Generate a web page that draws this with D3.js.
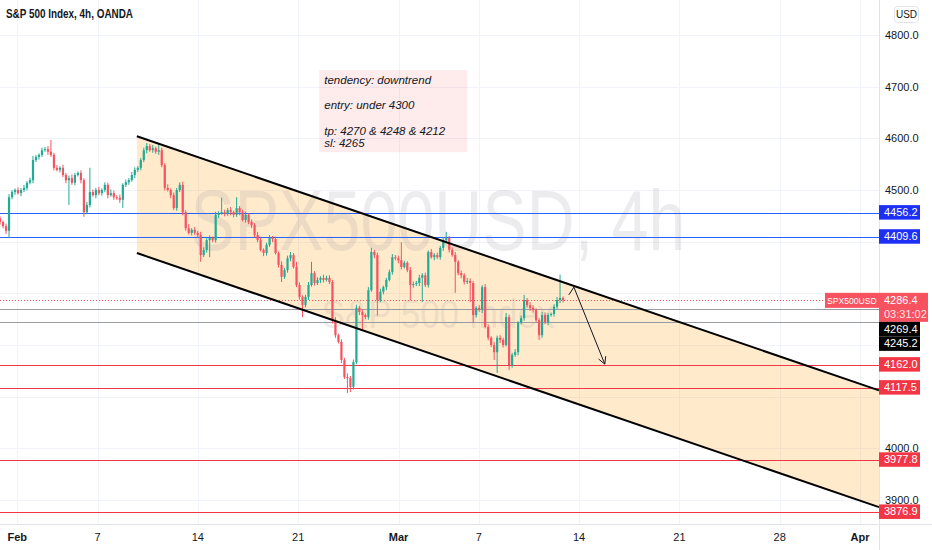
<!DOCTYPE html>
<html>
<head>
<meta charset="utf-8">
<script src="https://cdn.jsdelivr.net/npm/d3@7"></script>
<style>
  body { margin: 0; background: #fff; }
  svg { display: block; font-family: "Liberation Sans", Arial, sans-serif; }
</style>
</head>
<body>
<svg id="chart" width="932" height="550"></svg>
<script>
// 4h closes (open = previous close)
const closes = [
  4438,4430,4421,4486,4496,4500,4494,4500,4504,4514,
  4519,4558,4564,4568,4577,4579,4574,4568,4543,4539,
  4543,4529,4519,4523,4514,4529,4533,4519,4457,4471,
  4496,4490,4500,4494,4500,4510,4490,4494,4486,4485,
  4481,4510,4515,4519,4529,4539,4543,4558,4577,4585,
  4577,4581,4574,4577,4548,4504,4500,4490,4465,4500,
  4510,4457,4426,4417,4423,4417,4413,4374,4384,4403,
  4407,4403,4452,4455,4457,4454,4461,4457,4452,4465,
  4457,4442,4452,4438,4432,4413,4403,4384,4378,4394,
  4407,4405,4378,4355,4332,4345,4368,4374,4351,4316,
  4293,4277,4293,4316,4339,4320,4326,4330,4326,4330,
  4322,4248,4219,4206,4171,4138,4136,4119,4167,4272,
  4264,4258,4254,4306,4380,4374,4287,4303,4312,4326,
  4341,4370,4368,4364,4351,4359,4345,4316,4318,4320,
  4330,4335,4316,4380,4370,4374,4370,4388,4403,4407,
  4384,4374,4361,4339,4335,4322,4324,4320,4258,4272,
  4268,4312,4235,4214,4200,4186,4214,4210,4200,4254,
  4161,4181,4186,4243,4252,4287,4277,4272,4268,4248,
  4219,4258,4244,4258,4260,4274,4287,4291,4286.4
];
// wick lengths above / below the body, in points
const upperWick = [
  4,3,5,6,4,3,5,4,6,3, 5,8,4,3,5,4,6,23,4,5, 3,6,4,5,7,4,3,5,4,6,
  47,5,4,6,3,5,4,7,5,4, 6,3,5,4,6,5,3,4,5,6, 4,6,3,14,5,4,7,3,5,4,
  5,6,4,8,3,5,4,6,5,4, 5,3,6,4,28,5,4,6,3,21, 4,5,6,3,5,4,6,5,3,4,
  6,4,5,3,7,4,5,6,4,10, 5,3,4,6,22,4,5,3,6,4, 5,4,6,3,5,4,7,4,5,6,
  4,5,3,6,8,4,5,6,3,4, 5,6,4,5,35,4,3,6,5,4, 6,4,5,3,6,4,5,4,6,12,
  4,5,6,3,5,4,6,5,4,3, 5,4,6,5,3,6,4,5,4,8, 5,4,6,3,5,10,4,6,5,3,
  4,6,5,4,3,5,6,45,3
];
const lowerWick = [
  5,4,6,14,4,5,3,6,4,5, 3,6,4,5,4,3,6,4,5,3, 5,4,6,48,4,5,3,6,9,4,
  5,3,6,4,5,4,6,3,5,4, 6,16,4,5,3,6,4,5,4,6, 3,5,4,6,4,5,3,6,4,5,
  4,6,5,3,5,4,6,13,4,5, 33,4,5,6,3,5,4,6,5,4, 6,3,5,4,6,5,4,3,6,5,
  4,6,3,5,10,4,5,6,3,4, 5,23,4,6,3,5,4,6,5,3, 4,6,5,3,6,4,29,10,5,4,
  6,29,4,5,3,6,30,4,5,6, 3,5,4,6,5,3,4,29,5,4, 6,47,4,5,3,6,4,5,6,4,
  5,3,60,4,6,5,4,37,15,5, 4,6,3,5,4,15,40,6,5,3, 9,5,4,6,3,5,4,6,5,4,
  9,5,4,6,3,5,4,6,4
];
const firstOpen = 4445;
const firstBarDay = -0.86;   // trading days from Feb 1
const barsPerDay = 6.7;

const dayTicks = [0, 4, 9, 14, 19, 23, 28, 33, 38, 42];
const dayLabels = ["Feb", "7", "14", "21", "Mar", "7", "14", "21", "28", "Apr"];
const monthLabels = ["Feb", "Mar", "Apr"];
const priceTicks = [3900, 4000, 4100, 4200, 4300, 4400, 4500, 4600, 4700, 4800];

const blueLevels = [4456.2, 4409.6];
const greyLevels = [4269.4, 4245.2];
const redLevels = [4162.0, 4117.5, 3977.8, 3876.9];
const lastPrice = 4286.4;
const countdown = "03:31:02";
const symbol = "SPX500USD";

const channelStart = { day: 5.96, price: 4604 };
const channelEnd = { day: 21.3, price: 4400 };
const channelWidth = 226;

const arrowPoints = [
  { day: 27.49, price: 4297 },
  { day: 27.74, price: 4312 },
  { day: 29.28, price: 4163 }
];
const noteAnchor = { day: 15.05, price: 4732 };
const noteLines = ["tendency: downtrend", "entry: under 4300", "tp: 4270 & 4248 & 4212", "sl: 4265"];

const svg = d3.select("#chart");
const W = 879, H = 524;

const x = d3.scaleLinear().domain([0, 42]).range([17.3, 860]);
const y = d3.scaleLinear().domain([3900, 4800]).range([500, 35]);

const bars = closes.map(function(c, i) {
    const o = i === 0 ? firstOpen : closes[i - 1];
    return {
        day: firstBarDay + i / barsPerDay,
        o: o, c: c,
        h: Math.max(o, c) + upperWick[i],
        l: Math.min(o, c) - lowerWick[i]
    };
});

// grid
svg.append("g").selectAll("line").data(dayTicks).enter().append("line")
    .attr("x1", d => Math.round(x(d)) + 0.5).attr("x2", d => Math.round(x(d)) + 0.5)
    .attr("y1", 0).attr("y2", H)
    .attr("stroke", "#f0f3fa");
svg.append("g").selectAll("line").data(priceTicks).enter().append("line")
    .attr("x1", 0).attr("x2", W)
    .attr("y1", d => Math.round(y(d)) + 0.5).attr("y2", d => Math.round(y(d)) + 0.5)
    .attr("stroke", "#f0f3fa");

// channel fill
const dayMax = x.invert(W);
const slope = (channelEnd.price - channelStart.price) / (channelEnd.day - channelStart.day);
const upperAt = d => channelStart.price + slope * (d - channelStart.day);
const poly = [
    [channelStart.day, upperAt(channelStart.day)],
    [dayMax, upperAt(dayMax)],
    [dayMax, upperAt(dayMax) - channelWidth],
    [channelStart.day, upperAt(channelStart.day) - channelWidth]
];
svg.append("path")
    .attr("d", "M" + poly.map(p => [x(p[0]), y(p[1])].join(",")).join("L") + "Z")
    .attr("fill", "rgba(255,152,0,0.2)");

// watermark
svg.append("text")
    .attr("x", 438).attr("y", 250)
    .attr("text-anchor", "middle")
    .attr("font-size", 86)
    .attr("textLength", 495).attr("lengthAdjust", "spacingAndGlyphs")
    .attr("fill", "rgba(120,123,134,0.14)")
    .text(symbol + ", 4h");
svg.append("text")
    .attr("x", 438).attr("y", 328)
    .attr("text-anchor", "middle")
    .attr("font-size", 40)
    .attr("textLength", 233).attr("lengthAdjust", "spacingAndGlyphs")
    .attr("fill", "rgba(120,123,134,0.14)")
    .text("S&P 500 Index");

// horizontal levels
const hline = function(v, color, dash) {
    svg.append("line")
        .attr("x1", 0).attr("x2", W)
        .attr("y1", Math.round(y(v)) + 0.5).attr("y2", Math.round(y(v)) + 0.5)
        .attr("stroke", color)
        .attr("stroke-dasharray", dash || null);
};
blueLevels.forEach(v => hline(v, "#2962ff"));
greyLevels.forEach(v => hline(v, "#9a9ca3"));
redLevels.forEach(v => hline(v, "#f23645"));
hline(lastPrice, "#f7525f", "1,2");

// candles
const up = "#22ab94", down = "#f7525f";
const cg = svg.append("g");
cg.selectAll("line").data(bars).enter().append("line")
    .attr("x1", d => x(d.day)).attr("x2", d => x(d.day))
    .attr("y1", d => y(d.h)).attr("y2", d => y(d.l))
    .attr("stroke", d => d.c >= d.o ? up : down)
    .attr("stroke-width", 1);
cg.selectAll("rect").data(bars).enter().append("rect")
    .attr("x", d => x(d.day) - 1.1)
    .attr("width", 2.2)
    .attr("y", d => y(Math.max(d.o, d.c)))
    .attr("height", d => Math.max(1, Math.abs(y(d.o) - y(d.c))))
    .attr("fill", d => d.c >= d.o ? up : down);

// channel lines
[0, channelWidth].forEach(function(off) {
    svg.append("line")
        .attr("x1", x(channelStart.day)).attr("y1", y(upperAt(channelStart.day) - off))
        .attr("x2", x(dayMax)).attr("y2", y(upperAt(dayMax) - off))
        .attr("stroke", "#000").attr("stroke-width", 2);
});

// arrow
const line = d3.line().x(d => x(d.day)).y(d => y(d.price));
svg.append("path").attr("d", line(arrowPoints))
    .attr("fill", "none").attr("stroke", "#131722").attr("stroke-width", 1);
const a = arrowPoints[arrowPoints.length - 2], b = arrowPoints[arrowPoints.length - 1];
const ang = Math.atan2(y(b.price) - y(a.price), x(b.day) - x(a.day));
[-0.5, 0.5].forEach(function(t) {
    svg.append("line")
        .attr("x1", x(b.day)).attr("y1", y(b.price))
        .attr("x2", x(b.day) - 8 * Math.cos(ang + t)).attr("y2", y(b.price) - 8 * Math.sin(ang + t))
        .attr("stroke", "#131722");
});

// note
const nx = x(noteAnchor.day), ny = y(noteAnchor.price);
svg.append("rect")
    .attr("x", nx).attr("y", ny).attr("width", 148).attr("height", 82)
    .attr("fill", "rgba(242,54,69,0.1)");
const noteOffsets = [14, 39, 65, 77];
noteLines.forEach(function(t, i) {
    svg.append("text")
        .attr("x", nx + 5).attr("y", ny + noteOffsets[i])
        .attr("font-size", 11.5).attr("font-style", "italic")
        .attr("fill", "#131722")
        .text(t);
});

// axes frame
svg.append("line").attr("x1", W + 0.5).attr("x2", W + 0.5).attr("y1", 0).attr("y2", 550).attr("stroke", "#e0e3eb");
svg.append("line").attr("x1", 0).attr("x2", 932).attr("y1", H + 0.5).attr("y2", H + 0.5).attr("stroke", "#e0e3eb");

// time labels
svg.append("g").selectAll("text").data(dayTicks).enter().append("text")
    .attr("x", d => x(d)).attr("y", 541)
    .attr("text-anchor", "middle")
    .attr("font-size", 11)
    .attr("font-weight", (d, i) => monthLabels.includes(dayLabels[i]) ? "bold" : "normal")
    .attr("fill", "#131722")
    .text((d, i) => dayLabels[i]);

// level tags, pushed apart where they overlap
const tags = []
    .concat(blueLevels.map(v => ({ v: v, bg: "#1e2ff5", lines: [v.toFixed(1)] })))
    .concat(greyLevels.map(v => ({ v: v, bg: "#000", lines: [v.toFixed(1)] })))
    .concat(redLevels.map(v => ({ v: v, bg: "#f23645", lines: [v.toFixed(1)] })))
    .concat([{ v: lastPrice, bg: "#f7525f", lines: [lastPrice.toFixed(1), countdown], wide: true }]);
tags.sort((p, q) => q.v - p.v);
let bottom = -Infinity;
tags.forEach(function(t) {
    t.h = t.lines.length * 14.5;
    t.top = Math.max(y(t.v) - 7.5, bottom);
    bottom = t.top + t.h;
});

// price labels (the ones hidden behind a tag are left out)
const covered = v => tags.some(t => y(v) > t.top - 3 && y(v) < t.top + t.h + 4);
svg.append("g").selectAll("text").data(priceTicks.filter(v => !covered(v))).enter().append("text")
    .attr("x", 885).attr("y", d => y(d) + 4)
    .attr("font-size", 11)
    .attr("fill", "#131722")
    .text(d => d3.format(".1f")(d));

tags.forEach(function(t) {
    svg.append("rect")
        .attr("x", W).attr("y", t.top).attr("width", t.wide ? 49 : 41).attr("height", t.h)
        .attr("fill", t.bg);
    t.lines.forEach(function(s, i) {
        svg.append("text")
            .attr("x", 884).attr("y", t.top + 11 + i * 14.5)
            .attr("font-size", 11)
            .attr("fill", i > 0 ? "rgba(255,255,255,0.85)" : "#fff")
            .text(s);
    });
});
svg.append("rect")
    .attr("x", 825).attr("y", y(lastPrice) - 7.5).attr("width", 54).attr("height", 15)
    .attr("fill", "#f7525f");
svg.append("text")
    .attr("x", 827).attr("y", y(lastPrice) + 3.5)
    .attr("font-size", 8.6).attr("fill", "#fff")
    .text(symbol);

// currency button
svg.append("rect").attr("x", 894.5).attr("y", 6.5).attr("width", 24).attr("height", 16).attr("rx", 3)
    .attr("fill", "#fff").attr("stroke", "#e0e3eb");
svg.append("text").attr("x", 906.5).attr("y", 18).attr("text-anchor", "middle")
    .attr("font-size", 10).attr("fill", "#131722").text("USD");

// title
svg.append("text")
    .attr("x", 6).attr("y", 18)
    .attr("font-size", 12).attr("font-weight", "bold")
    .attr("textLength", 127).attr("lengthAdjust", "spacingAndGlyphs")
    .attr("fill", "#131722")
    .text("S&P 500 Index, 4h, OANDA");
</script>
</body>
</html>
